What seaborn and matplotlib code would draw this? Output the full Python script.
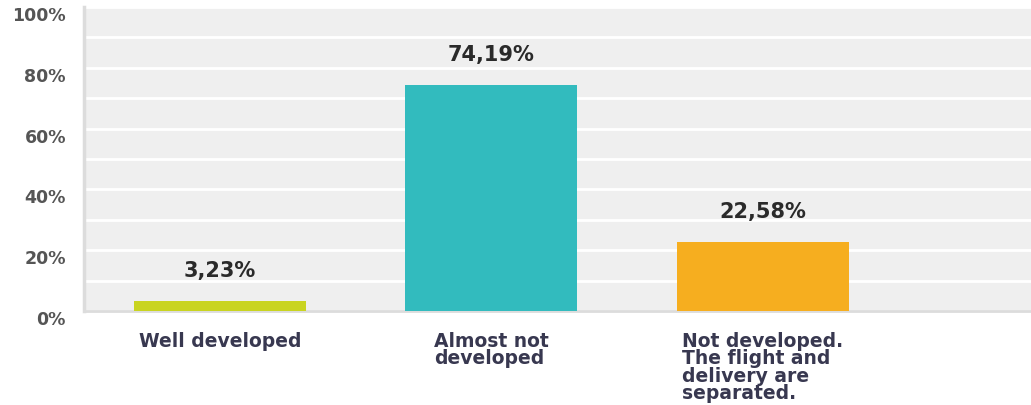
import matplotlib
matplotlib.use("Agg")
import matplotlib.pyplot as plt
import seaborn as sns
import pandas as pd

categories = ["Well developed", "Almost not\ndeveloped", "Not developed.\nThe flight and\ndelivery are\nseparated."]
values = [3.23, 74.19, 22.58]
value_labels = ["3,23%", "74,19%", "22,58%"]
colors = ["#c9d420", "#32bbbe", "#f6ae1f"]
yticks = [0, 10, 20, 30, 40, 50, 60, 70, 80, 90, 100]
ytick_labels = ["0%", "", "20%", "", "40%", "", "60%", "", "80%", "", "100%"]

sns.set_theme(style="white")
plt.rcParams["font.family"] = ["DejaVu Sans"]

fig = plt.figure(figsize=(10.31, 4.05), dpi=100)
ax = fig.add_axes([84 / 1031, 1 - 311 / 405, 1 - 84 / 1031, (311 - 7) / 405])
ax.set_facecolor("#efefef")

df = pd.DataFrame({"cat": categories, "val": values})
sns.barplot(data=df, x="cat", y="val", hue="cat", palette=colors, legend=False,
            width=0.634, ax=ax, saturation=1, zorder=3, linewidth=0)

ax.set_ylim(0, 100)
ax.set_xlim(-0.5, 2.988)
ax.set_yticks(yticks)
ax.set_yticklabels(ytick_labels)
ax.yaxis.grid(True, color="white", linewidth=2, zorder=1)
ax.set_axisbelow(True)
ax.tick_params(axis="both", length=0)
ax.set_xlabel("")
ax.set_ylabel("")

ax.tick_params(axis="y", pad=13)
for lab in ax.get_yticklabels():
    lab.set_fontweight("bold")
    lab.set_fontsize(12.5)
    lab.set_color("#555555")
    lab.set_verticalalignment("top")

ax.tick_params(axis="x", pad=15)
for lab in ax.get_xticklabels():
    lab.set_fontweight("bold")
    lab.set_fontsize(13.5)
    lab.set_color("#383850")
    lab.set_multialignment("left")
    lab.set_verticalalignment("top")
    lab.set_linespacing(0.9)

for i, (v, t) in enumerate(zip(values, value_labels)):
    ax.annotate(t, xy=(i, v), xytext=(0, 22), textcoords="offset points",
                ha="center", va="center", fontsize=15, fontweight="bold", color="#2a2a2a")

for s in ["top", "right"]:
    ax.spines[s].set_visible(False)
ax.spines["left"].set_color("#dcdcdc")
ax.spines["left"].set_linewidth(2.5)
ax.spines["bottom"].set_color("#dcdcdc")
ax.spines["bottom"].set_linewidth(2)

fig.savefig("out.png", dpi=100, facecolor="white")
